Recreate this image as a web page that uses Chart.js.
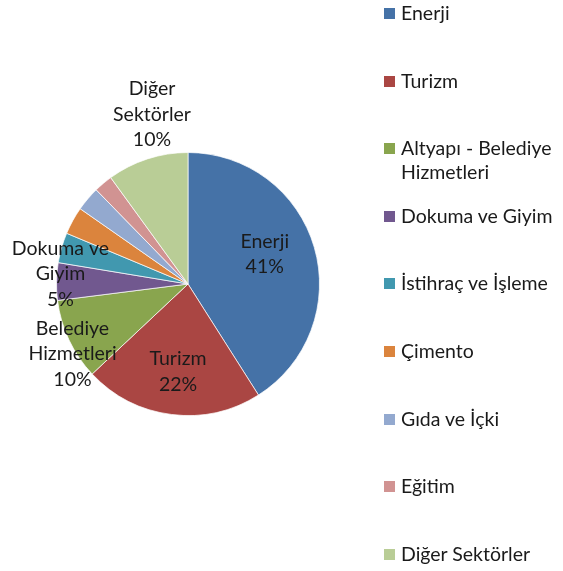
<!DOCTYPE html>
<html>
<head>
<meta charset="utf-8">
<script src="https://cdn.jsdelivr.net/npm/chart.js@4"></script>
<style>
  body { margin: 0; background: #fff; }
  #wrap { position: relative; width: 563px; height: 571px; }
  #legend { position: absolute; left: 384px; top: 0; font: 19.5px Lato, sans-serif; color: #1a1a1a; }
  .item { position: absolute; left: 0; width: 180px; display: flex; align-items: flex-start; line-height: 24px; white-space: nowrap; }
  .box { width: 11px; height: 11px; margin: 7px 6px 0 0; flex: none; }
</style>
</head>
<body>
<div id="wrap">
  <canvas id="pie" width="563" height="571"></canvas>
  <div id="legend"></div>
</div>
<script>
const categories = ['Enerji', 'Turizm', 'Altyapı - Belediye Hizmetleri', 'Dokuma ve Giyim', 'İstihraç ve İşleme', 'Çimento', 'Gıda ve İçki', 'Eğitim', 'Diğer Sektörler'];
const shares = [41, 22, 10, 4.6, 3.7, 3.4, 3, 2.3, 10];
const legendLines = [['Enerji'], ['Turizm'], ['Altyapı - Belediye', 'Hizmetleri'], ['Dokuma ve Giyim'], ['İstihraç ve İşleme'], ['Çimento'], ['Gıda ve İçki'], ['Eğitim'], ['Diğer Sektörler']];
const sliceLabels = [['Enerji'], ['Turizm'], ['Belediye', 'Hizmetleri'], ['Dokuma ve', 'Giyim'], null, null, null, null, ['Diğer', 'Sektörler']];

const colors = ['#4572A7', '#AA4643', '#89A54E', '#71588F', '#4198AF', '#DB843D', '#93A9CF', '#D19392', '#B9CD96'];
// [angle shift in degrees, radius factor] for each label
const labelPlace = [[-5, 0.626], [-0.7, 0.671], [-6, 1.027], [3.5, 0.973], null, null, null, null, [6, 1.317]];

const sliceText = {
  id: 'sliceText',
  afterDatasetsDraw(chart) {
    const ctx = chart.ctx;
    const total = shares.reduce((a, b) => a + b, 0);
    ctx.save();
    ctx.font = '19.5px Lato, sans-serif';
    ctx.fillStyle = '#1a1a1a';
    ctx.textAlign = 'center';
    ctx.textBaseline = 'middle';
    chart.getDatasetMeta(0).data.forEach((arc, i) => {
      if (!sliceLabels[i]) return;
      const mid = (arc.startAngle + arc.endAngle) / 2 + labelPlace[i][0] * Math.PI / 180;
      const r = arc.outerRadius * labelPlace[i][1];
      const x = arc.x + Math.cos(mid) * r;
      const y = arc.y + Math.sin(mid) * r;
      const lines = sliceLabels[i].concat([Math.round(shares[i] / total * 100) + '%']);
      const lh = 25.5;
      lines.forEach((t, k) => ctx.fillText(t, x, y + (k - (lines.length - 1) / 2) * lh));
    });
    ctx.restore();
  }
};

new Chart(document.getElementById('pie'), {
  type: 'pie',
  data: {
    labels: categories,
    datasets: [{ data: shares, backgroundColor: colors, borderColor: 'rgba(255,255,255,0.7)', borderWidth: 1 }]
  },
  options: {
    responsive: false,
    animation: false,
    layout: { padding: { left: 56, right: 243, top: 152, bottom: 155 } },
    plugins: { legend: { display: false }, tooltip: { enabled: false } }
  },
  plugins: [sliceText]
});

const legend = document.getElementById('legend');
categories.forEach((c, i) => {
  const item = document.createElement('div');
  item.className = 'item';
  item.style.top = (1 + i * 67.6) + 'px';
  const box = document.createElement('span');
  box.className = 'box';
  box.style.background = colors[i];
  const txt = document.createElement('span');
  txt.innerHTML = legendLines[i].join('<br>');
  item.appendChild(box);
  item.appendChild(txt);
  legend.appendChild(item);
});
</script>
</body>
</html>
